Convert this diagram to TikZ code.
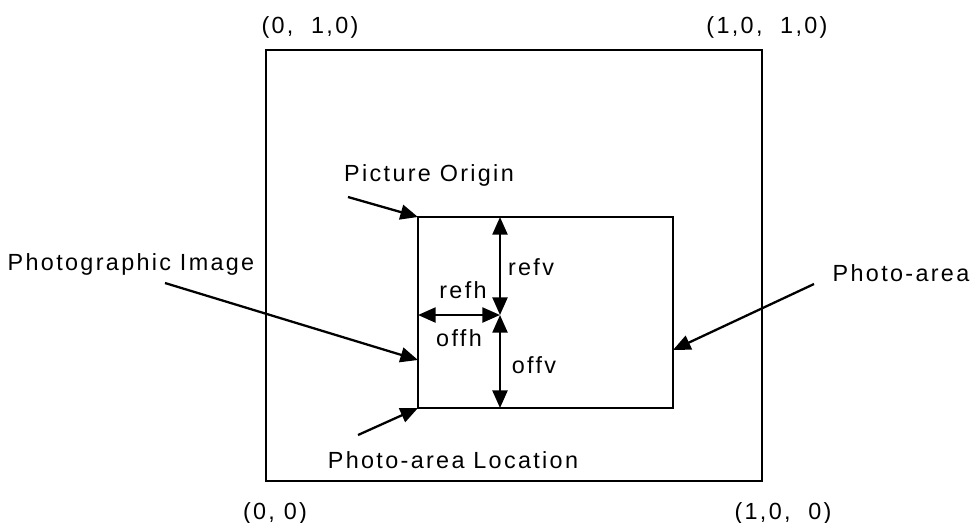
\documentclass[tikz,border=0pt]{standalone}
\usepackage{fontspec}
\setmainfont[LetterSpace=10]{Liberation Sans}
\usepackage{tikz}
\usetikzlibrary{arrows.meta}
\usetikzlibrary{positioning}

\begin{document}
\begin{tikzpicture}[x=0.02cm, y=-0.02cm, line width=1.3pt,
	every node/.style={inner sep=0pt, font=\fontsize{13.3}{16}\selectfont}]
	\useasboundingbox (0,0) rectangle (973,522);

	% frame and photo-area
	\begin{scope}
		\coordinate (o00) at (266,481);
		\coordinate (o11) at (762,50);
		\coordinate (loc) at (418,408);
		\coordinate (org) at (418,217);
		\coordinate (ar) at (673,217);
		\coordinate (mid) at (500,315);
		\coordinate (midtop) at (500,217);
		\coordinate (midbot) at (500,408);
		\coordinate (midleft) at (418,315);
		\coordinate (img) at (418,360);
		\coordinate (arside) at (673,350);
		\draw (o00) rectangle (o11);
		\draw (loc) rectangle (ar);
	\end{scope}

	% labels
	\node (c01) at (310,27) {(0,\ \ 1,0)};
	\node (c11) at (767,27) {(1,0,\ \ 1,0)};
	\node (c00) at (275,513) {(0, 0)};
	\node (c10) at (783,513) {(1,0,\ \ 0)};
	\node (origin) at (429,175) {Picture Origin};
	\node (image) at (131,264) {Photographic Image};
	\node (area) at (901,273) {Photo-area};
	\node (location) at (453,460) {Photo-area Location};
	\node (refv) at (531,267) {refv};
	\node (offv) at (534,365) {offv};
	\node (refh) at (463,290) {refh};
	\node (offh) at (459,338) {offh};

	% pointers
	\begin{scope}[>={Triangle[length=10pt,width=8.5pt]}]
		\coordinate (s1) at (348,197);
		\coordinate (s2) at (165,283);
		\coordinate (s3) at (814,284);
		\coordinate (s4) at (358,435);
		\draw[->] (s1) -- (org);
		\draw[->] (s2) -- (img);
		\draw[->] (s3) -- (arside);
		\draw[->] (s4) -- (loc);
		\draw[<->] (midtop) -- (mid);
		\draw[<->] (mid) -- (midbot);
		\draw[<->] (midleft) -- (mid);
	\end{scope}
\end{tikzpicture}
\end{document}
